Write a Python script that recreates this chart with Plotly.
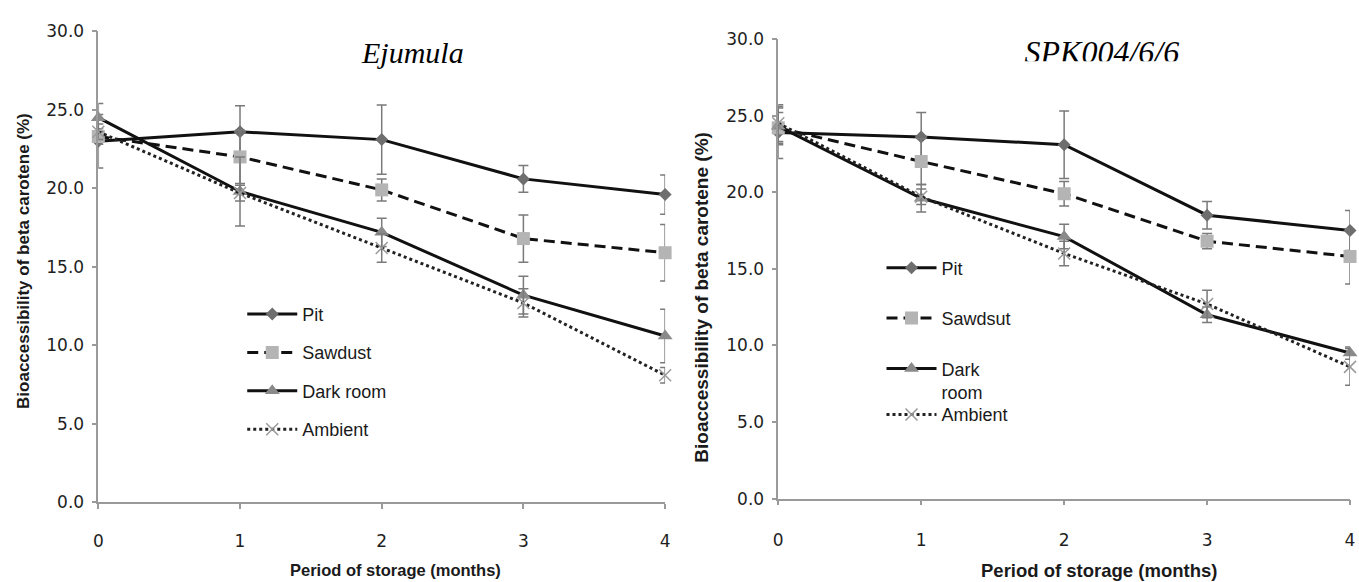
import plotly.graph_objects as go

W, H = 1359, 582

# ---------------- data ----------------
months = [0, 1, 2, 3, 4]
x_tick_vals = [0, 1, 2, 3, 4]
x_tick_text = ["0", "1", "2", "3", "4"]
y_tick_vals = [0, 5, 10, 15, 20, 25, 30]
y_tick_text = ["0.0", "5.0", "10.0", "15.0", "20.0", "25.0", "30.0"]

series_names_left = ["Pit", "Sawdust", "Dark room", "Ambient"]
series_names_right = ["Pit", "Sawdsut", "Dark<br>room", "Ambient"]

# Ejumula (left panel)
ej_pit = [23.0, 23.6, 23.1, 20.6, 19.6]
ej_pit_err = [1.7, 1.65, 2.2, 0.85, 1.25]
ej_saw = [23.3, 22.0, 19.9, 16.8, 15.9]
ej_saw_err = [0.5, 1.7, 0.7, 1.5, 1.8]
ej_dark = [24.5, 19.8, 17.2, 13.2, 10.6]
ej_dark_err = [0.9, 2.2, 0.9, 1.2, 1.7]
ej_amb = [23.6, 19.7, 16.2, 12.7, 8.1]
ej_amb_err = [0.5, 0.5, 0.9, 0.9, 0.5]

# SPK004/6/6 (right panel)
spk_pit = [23.9, 23.6, 23.1, 18.5, 17.5]
spk_pit_err = [1.7, 1.6, 2.2, 0.9, 1.3]
spk_saw = [24.2, 22.0, 19.9, 16.8, 15.8]
spk_saw_err = [1.0, 1.5, 0.8, 0.5, 1.8]
spk_dark = [24.3, 19.6, 17.1, 12.0, 9.5]
spk_dark_err = [1.2, 0.9, 0.8, 0.5, 0.4]
spk_amb = [24.5, 19.7, 16.0, 12.7, 8.6]
spk_amb_err = [1.2, 0.5, 0.8, 0.9, 1.2]

# ---------------- helpers ----------------
def fx(p):
    return p / W


def fy(p):
    return 1 - p / H


styles = [
    dict(line=dict(color="#111111", width=3, dash="solid"),
         marker=dict(symbol="diamond", size=10, color="#6e6e6e")),
    dict(line=dict(color="#111111", width=3, dash="11px,6px"),
         marker=dict(symbol="square", size=13, color="#b4b4b4")),
    dict(line=dict(color="#111111", width=3, dash="solid"),
         marker=dict(symbol="triangle-up", size=13, color="#8a8a8a")),
    dict(line=dict(color="#222222", width=3, dash="dot"),
         marker=dict(symbol="x-thin", size=12, color="#9a9a9a",
                     line=dict(width=1.5, color="#9a9a9a"))),
]

fig = go.Figure()

left_sets = [(ej_pit, ej_pit_err), (ej_saw, ej_saw_err),
             (ej_dark, ej_dark_err), (ej_amb, ej_amb_err)]
right_sets = [(spk_pit, spk_pit_err), (spk_saw, spk_saw_err),
              (spk_dark, spk_dark_err), (spk_amb, spk_amb_err)]

for i, (vals, errs) in enumerate(left_sets):
    fig.add_trace(go.Scatter(
        x=months, y=vals, name=series_names_left[i], mode="lines+markers",
        xaxis="x", yaxis="y", legend="legend", legendgroup="L%d" % i,
        error_y=dict(type="data", array=errs, visible=True,
                     color="#7a7a7a", thickness=1.5, width=5),
        cliponaxis=False, **styles[i]))

for i, (vals, errs) in enumerate(right_sets):
    fig.add_trace(go.Scatter(
        x=months, y=vals, name=series_names_right[i], mode="lines+markers",
        xaxis="x2", yaxis="y2",
        legend="legend3" if i == 3 else "legend2", legendgroup="R%d" % i,
        error_y=dict(type="data", array=errs, visible=True,
                     color="#7a7a7a", thickness=1.5, width=5),
        cliponaxis=False, **styles[i]))

# clipped title of right panel (text trace clipped by its own subplot)
fig.add_trace(go.Scatter(
    x=[0.5], y=[0.16], mode="text", text=["SPK004/6/6"],
    textposition="middle center",
    textfont=dict(family="Liberation Serif", size=32, color="#000000",
                  style="italic"),
    xaxis="x3", yaxis="y3", showlegend=False, cliponaxis=True,
    hoverinfo="skip"))

tick_font = dict(family="DejaVu Sans", size=17, color="#1e1e1e")
axis_common = dict(showline=True, linecolor="#9a9a9a", linewidth=1.5,
                   ticks="outside", ticklen=5, tickcolor="#9a9a9a",
                   tickwidth=1.5, showgrid=False, zeroline=False,
                   tickfont=tick_font, fixedrange=True)

legend_font = dict(family="Liberation Sans", size=18, color="#1a1a1a")

fig.update_layout(
    width=W, height=H,
    margin=dict(l=0, r=0, t=0, b=0),
    paper_bgcolor="white", plot_bgcolor="white",
    showlegend=True,
    xaxis=dict(domain=[fx(94), fx(665)], range=[0, 4], anchor="y",
               tickvals=x_tick_vals, ticktext=x_tick_text,
               ticklabelstandoff=17, **axis_common),
    yaxis=dict(domain=[fy(510), fy(22)], range=[0, 30], anchor="x",
               tickvals=y_tick_vals, ticktext=y_tick_text,
               ticklabelstandoff=4, **axis_common),
    xaxis2=dict(domain=[fx(779), fx(1355)], range=[0, 4], anchor="y2",
                tickvals=x_tick_vals, ticktext=x_tick_text,
                ticklabelstandoff=20, **axis_common),
    yaxis2=dict(domain=[fy(506), fy(30)], range=[0, 30], anchor="x2",
                tickvals=y_tick_vals, ticktext=y_tick_text,
                ticklabelstandoff=4, **axis_common),
    xaxis3=dict(domain=[fx(950), fx(1260)], range=[0, 1], visible=False,
                anchor="y3", fixedrange=True),
    yaxis3=dict(domain=[fy(53), fy(15)], range=[0, 1], visible=False,
                anchor="x3", fixedrange=True),
    legend=dict(x=fx(239), y=fy(296), xanchor="left", yanchor="top",
                bgcolor="rgba(0,0,0,0)", traceorder="grouped",
                tracegroupgap=12, itemwidth=50, font=legend_font),
    legend2=dict(x=fx(883), y=fy(248), xanchor="left", yanchor="top",
                 bgcolor="rgba(0,0,0,0)", traceorder="grouped",
                 tracegroupgap=24, itemwidth=50, valign="top",
                 font=legend_font),
    legend3=dict(x=fx(883), y=fy(400), xanchor="left", yanchor="top",
                 bgcolor="rgba(0,0,0,0)", traceorder="grouped",
                 itemwidth=50, font=legend_font),
    annotations=[
        dict(text="Ejumula", x=fx(411), y=fy(44), xref="paper", yref="paper",
             showarrow=False, xanchor="center", yanchor="middle",
             font=dict(family="Liberation Serif", size=30, color="#000000",
                       style="italic")),
        dict(text="<b>Period of storage (months)</b>", x=fx(393), y=fy(580),
             xref="paper", yref="paper", showarrow=False,
             xanchor="center", yanchor="middle",
             font=dict(family="Liberation Sans", size=16.5, color="#1a1a1a")),
        dict(text="<b>Period of storage (months)</b>", x=fx(1102), y=fy(580),
             xref="paper", yref="paper", showarrow=False,
             xanchor="center", yanchor="middle",
             font=dict(family="Liberation Sans", size=18.5, color="#1a1a1a")),
        dict(text="<b>Bioaccessibility of beta carotene (%)</b>", x=fx(18),
             y=fy(260), xref="paper", yref="paper", showarrow=False,
             textangle=-90, xanchor="center", yanchor="middle",
             font=dict(family="Liberation Sans", size=17, color="#1a1a1a")),
        dict(text="<b>Bioaccessibility of beta carotene (%)</b>", x=fx(702),
             y=fy(297), xref="paper", yref="paper", showarrow=False,
             textangle=-90, xanchor="center", yanchor="middle",
             font=dict(family="Liberation Sans", size=19, color="#1a1a1a")),
    ],
)

fig.write_html(
    "out.html",
    config={"displayModeBar": False},
    post_script="document.body.style.margin='0';document.body.style.padding='0';",
)
